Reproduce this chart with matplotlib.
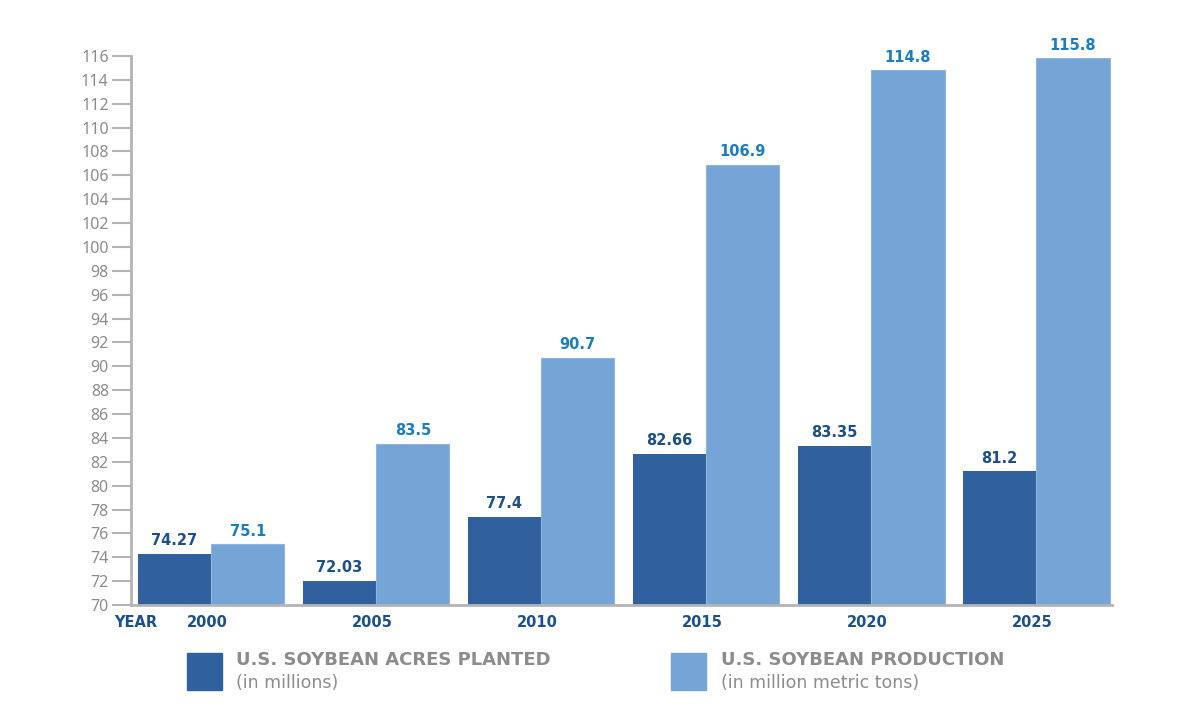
import matplotlib
matplotlib.use("Agg")
import matplotlib.pyplot as plt
import matplotlib.patches as mpatches
import matplotlib.transforms as mtransforms
import numpy as np

years = ["2000", "2005", "2010", "2015", "2020", "2025"]
acres = [74.27, 72.03, 77.4, 82.66, 83.35, 81.2]
production = [75.1, 83.5, 90.7, 106.9, 114.8, 115.8]
acres_labels = ["74.27", "72.03", "77.4", "82.66", "83.35", "81.2"]
prod_labels = ["75.1", "83.5", "90.7", "106.9", "114.8", "115.8"]
yticks = list(range(70, 117, 2))

DARK = "#30609e"
LIGHT = "#75a4d7"
DARK_TXT = "#1c4f8c"
LIGHT_TXT = "#1a7dc4"
GRAY = "#8c8c8c"
SPINE = "#b4b4b4"
FONT = "Noto Sans"
WIDE = "DejaVu Sans"

plt.rcParams['font.family'] = [FONT, 'DejaVu Sans']

fig = plt.figure(figsize=(12, 7.2), dpi=100)
ax = fig.add_axes([131/1200, 1-605/720, (1112-131)/1200, (605-56)/720])

x = np.arange(len(years))
w = 0.445
ax.bar(x - w/2, np.array(acres) - 70, w, bottom=70, color=DARK, edgecolor="none")
ax.bar(x + w/2, np.array(production) - 70, w, bottom=70, color=LIGHT,
       edgecolor="#8fb6e0", linewidth=0.8)

for xi, v, lab in zip(x, acres, acres_labels):
    ax.annotate(lab, (xi - w/2, v), xytext=(0, 4), textcoords="offset points",
                ha="center", va="bottom", fontsize=10.5, fontweight="bold",
                color=DARK_TXT, clip_on=False, family=WIDE)
for xi, v, lab in zip(x, production, prod_labels):
    ax.annotate(lab, (xi + w/2, v), xytext=(0, 4), textcoords="offset points",
                ha="center", va="bottom", fontsize=10.5, fontweight="bold",
                color=LIGHT_TXT, clip_on=False, family=WIDE)

ax.set_xlim(-0.485, 5.46)
ax.set_ylim(70, 116)
ax.set_yticks(yticks)
ax.set_yticklabels([str(t) for t in yticks], color=GRAY, fontsize=11.5)
ax.tick_params(axis="y", length=14, width=1.5, color=SPINE, pad=2)
ax.set_xticks(x - 0.025)
ax.set_xticklabels(years, color=DARK_TXT, fontsize=10.5, fontweight="bold",
                   family=WIDE)
ax.tick_params(axis="x", length=0, pad=7)

trans = mtransforms.blended_transform_factory(ax.transData, ax.transAxes)
ax.text(-0.455, 0, "YEAR", ha="center", va="top",
        fontsize=10.5, fontweight="bold", color=DARK_TXT, family=WIDE,
        transform=trans + mtransforms.ScaledTranslation(0, -7/72, fig.dpi_scale_trans))

for s in ["top", "right"]:
    ax.spines[s].set_visible(False)
for s in ["left", "bottom"]:
    ax.spines[s].set_color(SPINE)
    ax.spines[s].set_linewidth(2)

# legend
fig.add_artist(mpatches.Rectangle((187/1200, 1-690/720), 35/1200, 37/720,
                                  transform=fig.transFigure, color=DARK))
fig.add_artist(mpatches.Rectangle((671/1200, 1-690/720), 35/1200, 37/720,
                                  transform=fig.transFigure, color=LIGHT))
fig.text(236/1200, 1-660/720, "U.S. SOYBEAN ACRES PLANTED", ha="left", va="center",
         fontsize=13, fontweight="bold", color=GRAY, family=WIDE)
fig.text(236/1200, 1-683/720, "(in millions)", ha="left", va="center",
         fontsize=12.5, color=GRAY, family=WIDE)
fig.text(721/1200, 1-660/720, "U.S. SOYBEAN PRODUCTION", ha="left", va="center",
         fontsize=13, fontweight="bold", color=GRAY, family=WIDE)
fig.text(721/1200, 1-683/720, "(in million metric tons)", ha="left", va="center",
         fontsize=12.5, color=GRAY, family=WIDE)

fig.savefig("out.png", dpi=100)
